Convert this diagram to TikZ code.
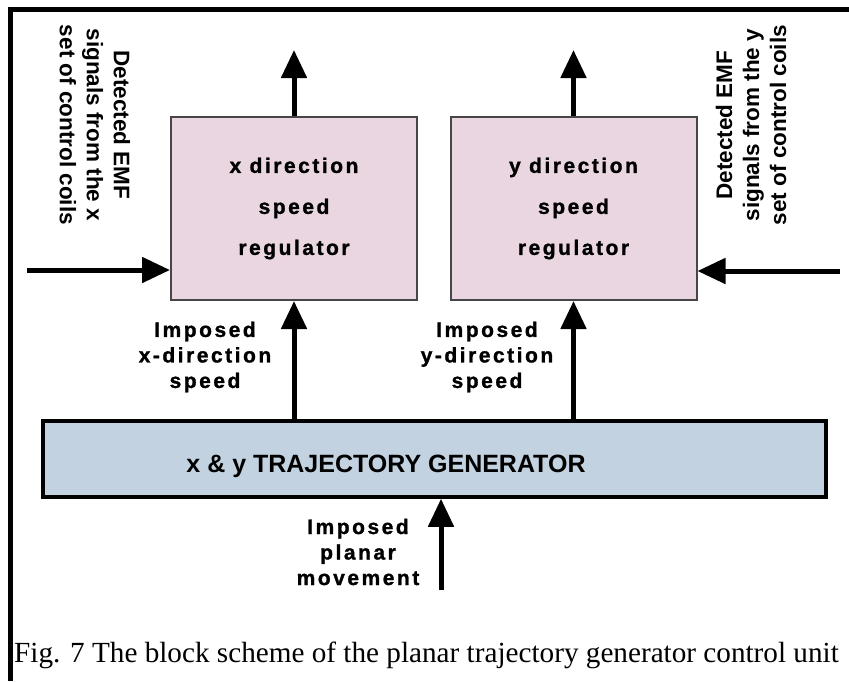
\documentclass[tikz,border=0pt]{standalone}
\usepackage{fontspec}
\setmainfont{Liberation Serif}
\newfontfamily\widesans[LetterSpace=12,BoldFeatures={FakeBold=1.2}]{Liberation Sans}
\newfontfamily\plainsans{Liberation Sans}
\usetikzlibrary{arrows.meta}

\definecolor{regfill}{RGB}{233,214,224}
\definecolor{regedge}{RGB}{70,70,70}
\definecolor{genfill}{RGB}{194,210,224}

\tikzset{
  regbox/.style={draw=regedge, line width=2pt, fill=regfill,
    minimum width=246pt, minimum height=183pt, inner sep=0pt, align=center,
    font={\widesans\bfseries\fontsize{21}{41}\selectfont}},
  genbox/.style={draw=black, line width=3.5pt, fill=genfill,
    minimum width=783pt, minimum height=76pt, inner sep=0pt},
  gentxt/.style={font={\plainsans\bfseries\fontsize{25}{30}\selectfont}, inner sep=0pt},
  flowlbl/.style={align=center, inner sep=0pt,
    font={\widesans\bfseries\fontsize{21}{25.5}\selectfont}},
  emflbl/.style={align=center, inner sep=0pt,
    font={\plainsans\bfseries\fontsize{22.5}{27}\selectfont}},
  sig/.style={line width=5pt, -{Triangle[length=28pt,width=25pt]}},
  frame/.style={line width=4.5pt, line join=miter}
}

\begin{document}
\begin{tikzpicture}[x=1pt,y=-1pt]
  \useasboundingbox (0,0) rectangle (849,681);

  % outer frame: left and top edges only
  \draw[frame] (10.5,681) -- (10.5,9.5) -- (849,9.5);

  % regulator blocks
  \node[regbox] (xreg) at (294,208.5) {x direction\\speed\\regulator};
  \node[regbox] (yreg) at (573.5,208.5) {y direction\\speed\\regulator};

  % trajectory generator
  \node[genbox] (gen) at (434.5,459) {};
  \node[gentxt] (gentext) at (386,466) {x \& y TRAJECTORY GENERATOR};

  % free ends of the signal lines
  \coordinate (xout) at (294,50);
  \coordinate (yout) at (573.5,50);
  \coordinate (xemf) at (27,270);
  \coordinate (yemf) at (840,271);
  \coordinate (plan) at (441,590);

  % outputs of the regulators
  \draw[sig] (xreg.north) -- (xout);
  \draw[sig] (yreg.north) -- (yout);

  % detected EMF inputs
  \draw[sig] (xemf) -- (xemf -| xreg.west);
  \draw[sig] (yemf) -- (yemf -| yreg.east);

  % imposed speeds from the generator
  \draw[sig] (gen.north -| xreg.south) -- (xreg.south);
  \draw[sig] (gen.north -| yreg.south) -- (yreg.south);

  % imposed planar movement into the generator
  \draw[sig] (plan) -- (plan |- gen.south);

  % labels
  \node[emflbl, rotate=-90] (xemflbl) at (95,125)
    {Detected EMF\\signals from the x\\set of control coils};
  \node[emflbl, rotate=90] (yemflbl) at (751,125)
    {Detected EMF\\signals from the y\\set of control coils};
  \node[flowlbl] (xspd) at (205,357) {Imposed\\x-direction\\speed};
  \node[flowlbl] (yspd) at (487,357) {Imposed\\y-direction\\speed};
  \node[flowlbl] (planlbl) at (358,552) {Imposed\\planar\\movement};

  % caption
  \node[anchor=base west, inner sep=0pt, font=\fontsize{29.2}{34}\selectfont]
    (caption) at (14,662)
    {Fig. 7 The block scheme of the planar trajectory generator control unit};
\end{tikzpicture}
\end{document}
